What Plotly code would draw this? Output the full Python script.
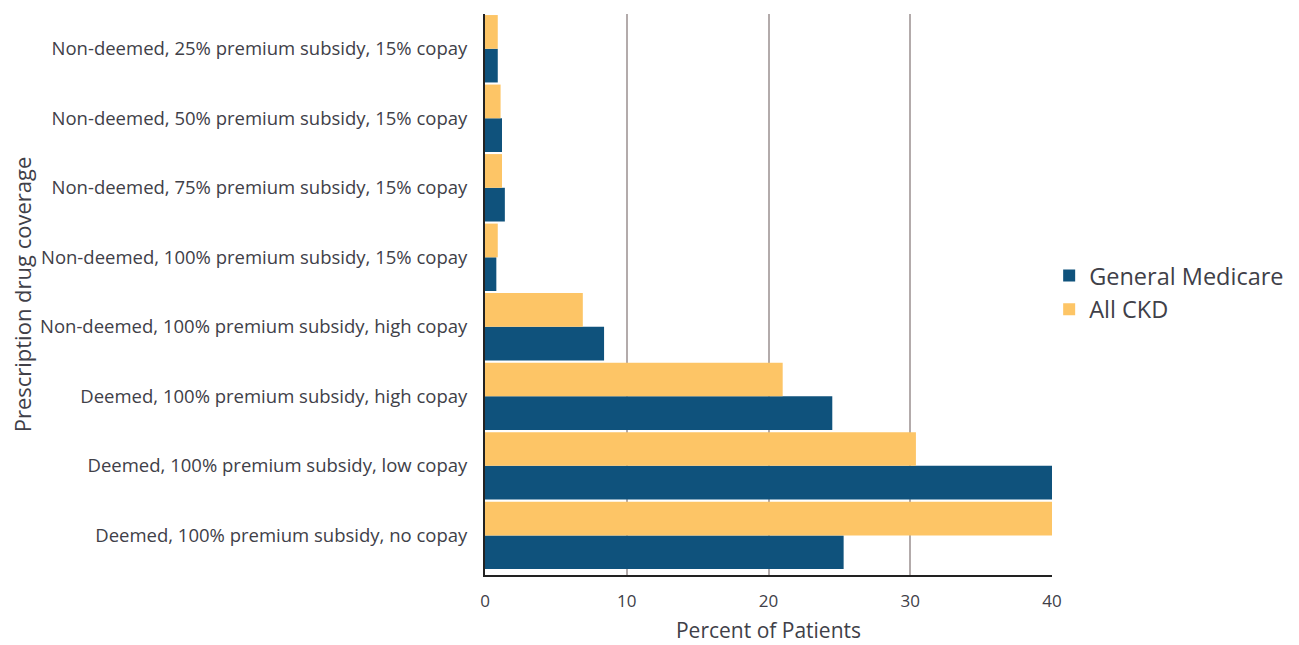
import plotly.graph_objects as go

# Prescription drug coverage categories (bottom to top)
categories = [
    "Deemed, 100% premium subsidy, no copay",
    "Deemed, 100% premium subsidy, low copay",
    "Deemed, 100% premium subsidy, high copay",
    "Non-deemed, 100% premium subsidy, high copay",
    "Non-deemed, 100% premium subsidy, 15% copay",
    "Non-deemed, 75% premium subsidy, 15% copay",
    "Non-deemed, 50% premium subsidy, 15% copay",
    "Non-deemed, 25% premium subsidy, 15% copay",
]

general_medicare = [25.3, 41.5, 24.5, 8.4, 0.8, 1.4, 1.2, 0.9]
all_ckd = [41.0, 30.4, 21.0, 6.9, 0.9, 1.2, 1.1, 0.9]

x_ticks = [0, 10, 20, 30, 40]

FONT = "Open Sans"
TEXT = "#404048"

fig = go.Figure()
fig.add_trace(go.Bar(
    y=categories, x=general_medicare, orientation="h",
    name="General Medicare", marker=dict(color="#0f527c", line=dict(width=0)),
))
fig.add_trace(go.Bar(
    y=categories, x=all_ckd, orientation="h",
    name="All CKD", marker=dict(color="#fdc566", line=dict(width=0)),
))

fig.update_layout(
    width=1299, height=645,
    margin=dict(l=485, r=247, t=14, b=70, autoexpand=False),
    paper_bgcolor="white", plot_bgcolor="white",
    barmode="group", bargap=0.03, bargroupgap=0,
    font=dict(family=FONT, color=TEXT),
    showlegend=True,
    legend=dict(
        x=0.995, y=0.503, xanchor="left", yanchor="middle",
        font=dict(size=23.5, color=TEXT), traceorder="normal",
        itemwidth=30, tracegroupgap=0,
    ),
)

fig.update_xaxes(
    range=[0, 40], tickvals=x_ticks, ticktext=[str(v) for v in x_ticks],
    showgrid=True, gridcolor="#b3abab", gridwidth=1.5,
    zeroline=False, showline=True, linecolor="#222222", linewidth=2,
    tickfont=dict(size=17, color=TEXT), ticks="", ticklabelstandoff=10,
    title=dict(text="Percent of Patients", font=dict(size=21, color=TEXT), standoff=12),
)
fig.update_yaxes(
    categoryorder="array", categoryarray=categories,
    range=[-0.57, 7.5],
    showline=True, linecolor="#222222", linewidth=2, showgrid=False,
    tickfont=dict(size=18.5, color=TEXT), ticks="", ticklabelstandoff=12,
    title=dict(text="Prescription drug coverage", font=dict(size=22, color=TEXT), standoff=2),
)

fig.write_html("out.html")
